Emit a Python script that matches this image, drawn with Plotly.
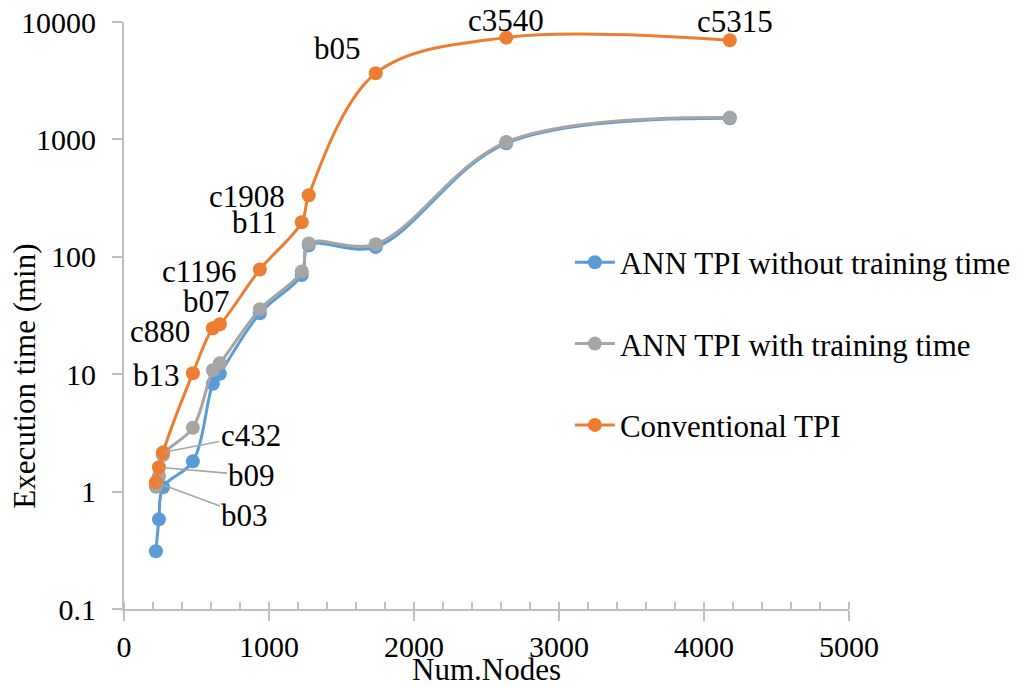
import math
import plotly.graph_objects as go

# Circuit benchmarks, ordered as plotted
circuits = ["b03", "b09", "c432", "b13", "c880", "b07", "c1196", "b11",
            "c1908", "b05", "c3540", "c5315"]
num_nodes = [220, 241, 269, 475, 613, 661, 937, 1226, 1274, 1736, 2636, 4178]

# Execution time in minutes
ann_without_training = [0.31, 0.58, 1.09, 1.81, 8.3, 10.1, 33, 70, 125, 121, 927, 1514]
ann_with_training = [1.1, 1.35, 2.05, 3.5, 10.8, 12.4, 35.7, 75, 130, 128, 950, 1534]
conventional_tpi = [1.2, 1.61, 2.16, 10.2, 24.6, 26.6, 78, 197, 334, 3660, 7360, 6985]

BLUE = "#5B9BD5"
GRAY = "#A5A5A5"
ORANGE = "#ED7D31"
AXIS = "#BFBFBF"
FONT = "Liberation Serif"

fig = go.Figure()

series = [
    ("ANN TPI without training time", ann_without_training, BLUE),
    ("ANN TPI with training time", ann_with_training, GRAY),
    ("Conventional TPI", conventional_tpi, ORANGE),
]
for i, (name, values, color) in enumerate(series):
    fig.add_trace(go.Scatter(
        x=num_nodes, y=values, name=name, legendgroup=f"g{i}",
        mode="lines+markers",
        line=dict(color=color, width=3, shape="spline", smoothing=1.0),
        marker=dict(color=color, size=14),
    ))

# Circuit names beside the conventional TPI points: (dx, dy) in pixels
plain_labels = {
    "b13": (-36, -2), "c880": (-53, -3), "b07": (-13, 23), "c1196": (-60, -2),
    "b11": (-47, 0), "c1908": (-62, -1), "b05": (-38, 25),
    "c3540": (0, 17), "c5315": (5, 19),
}
# Names joined to their point by a leader line: (ax, ay) in pixels
leader_labels = {"c432": (88, -17), "b09": (93, 8), "b03": (89, 33)}

annotations = []
for name, x, y in zip(circuits, num_nodes, conventional_tpi):
    ly = math.log10(y)  # annotation positions on a log axis use log10 units
    if name in plain_labels:
        dx, dy = plain_labels[name]
        annotations.append(dict(
            x=x, y=ly, xref="x", yref="y", yanchor="middle", xanchor="center",
            text=name, showarrow=False, xshift=dx, yshift=dy,
            font=dict(family=FONT, size=31, color="black"),
        ))
    elif name in leader_labels:
        ax, ay = leader_labels[name]
        annotations.append(dict(
            x=x, y=ly, xref="x", yref="y", text=name,
            showarrow=True, arrowhead=0, arrowwidth=1.6, arrowcolor="#A6A6A6",
            ax=ax, ay=ay, standoff=2,
            font=dict(family=FONT, size=31, color="black"),
        ))

annotations.append(dict(
    x=-0.137, y=0.397, xref="paper", yref="paper", text="Execution time (min)",
    textangle=-90, showarrow=False, xanchor="center", yanchor="middle",
    font=dict(family=FONT, size=31, color="black"),
))

fig.update_layout(
    width=1026, height=687,
    margin=dict(l=124, r=177, t=22, b=78, autoexpand=False),
    paper_bgcolor="white", plot_bgcolor="white",
    font=dict(family=FONT, size=30, color="black"),
    showlegend=True,
    legend=dict(
        x=0.615, y=0.636, xanchor="left", yanchor="top",
        font=dict(family=FONT, size=31, color="black"),
        bgcolor="rgba(0,0,0,0)", tracegroupgap=38, itemwidth=40,
    ),
    annotations=annotations,
    # second bottom axis: the upward half of the major x ticks
    xaxis2=dict(
        overlaying="x", anchor="y", side="bottom", range=[0, 5000], dtick=1000,
        ticks="inside", ticklen=7, tickwidth=2, tickcolor=AXIS,
        showticklabels=False, showline=False, showgrid=False, zeroline=False,
    ),
)

fig.update_xaxes(
    selector=dict(anchor="y"), overwrite=False,
)
fig.update_layout(xaxis=dict(
    range=[0, 5000], dtick=1000, showgrid=False, zeroline=False, automargin=False,
    showline=True, linecolor=AXIS, linewidth=2,
    ticks="outside", ticklen=10, tickwidth=2, tickcolor=AXIS,
    minor=dict(dtick=200, ticks="inside", ticklen=7, tickwidth=2, tickcolor=AXIS),
    title=dict(text="Num.Nodes", standoff=0, font=dict(family=FONT, size=31)),
    tickfont=dict(family=FONT, size=30),
))
fig.update_yaxes(
    type="log", range=[-1, 4], showgrid=False, zeroline=False, automargin=False,
    showline=True, linecolor=AXIS, linewidth=2,
    ticks="outside", ticklen=10, tickwidth=2, tickcolor=AXIS,
    tickvals=[0.1, 1, 10, 100, 1000, 10000],
    ticktext=["0.1", "1", "10", "100", "1000", "10000"],
    tickfont=dict(family=FONT, size=30), ticklabelstandoff=10,
)

fig.write_html("out.html")
